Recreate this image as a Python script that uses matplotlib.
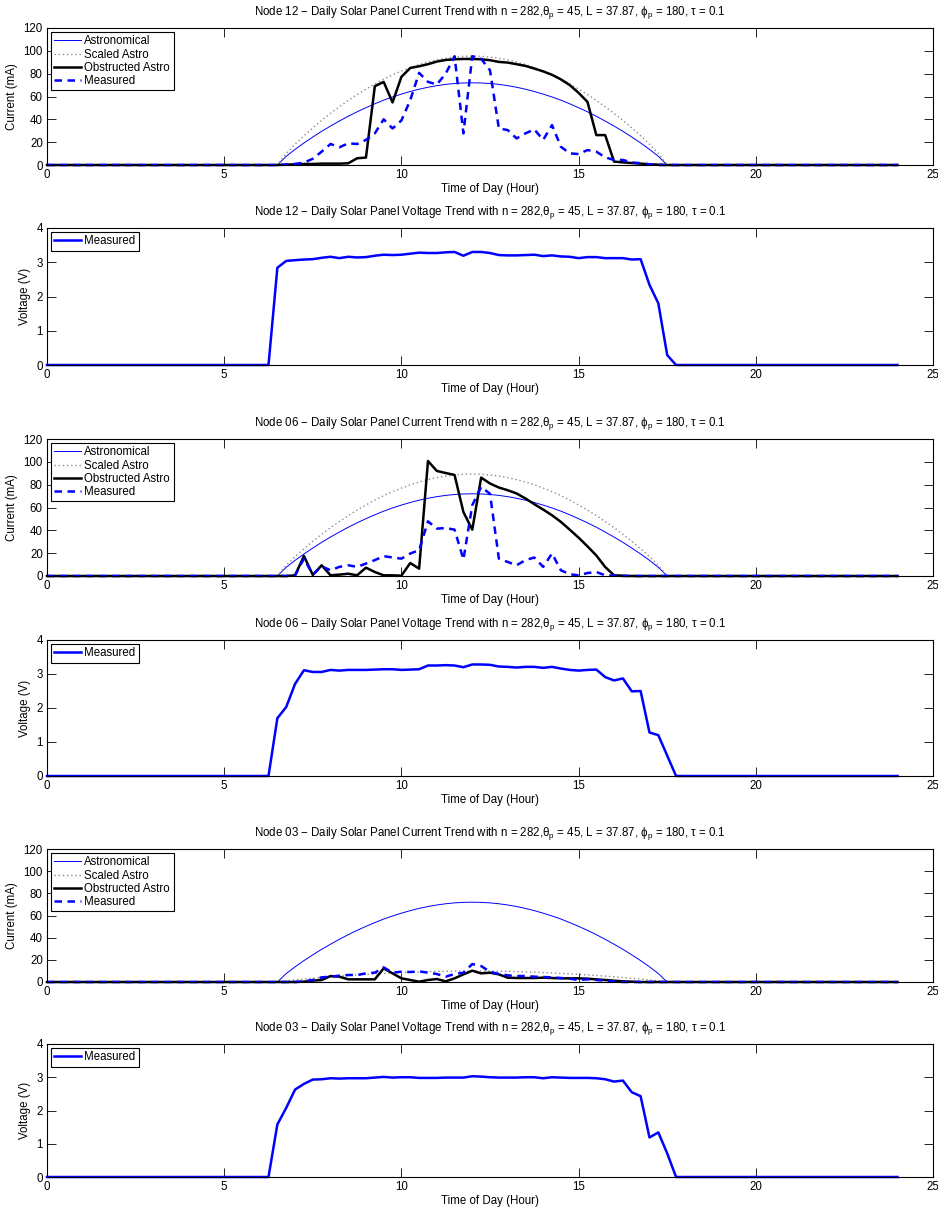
import numpy as np
import matplotlib.pyplot as plt

plt.rcParams['font.family'] = ['Liberation Sans', 'DejaVu Sans']
plt.rcParams['mathtext.default'] = 'regular'
plt.rcParams['font.size'] = 8

# 15 minute samples across the daylight window, padded with night zeros
day_hours = np.arange(6.25, 17.76, 0.25)

# astronomical model, identical for all nodes (same n, tilt, latitude, azimuth)
astro_ma = [0, 0, 7.6, 13.7, 19.3, 24.5, 29.5, 34.1, 38.5, 42.7, 46.6, 50.2, 53.6, 56.8,
            59.6, 62.1, 64.4, 66.4, 68.1, 69.5, 70.6, 71.4, 71.85, 72.0, 71.85, 71.4, 70.6,
            69.5, 68.1, 66.4, 64.4, 62.1, 59.6, 56.8, 53.6, 50.2, 46.6, 42.7, 38.5, 34.1,
            29.5, 24.5, 19.3, 13.7, 7.6, 0, 0]

# Node 12
scaled_12 = [0, 0, 10.1, 18.2, 25.6, 32.5, 39.1, 45.2, 51.0, 56.6, 61.7, 66.5, 71.0, 75.3,
             79.0, 82.3, 85.3, 88.0, 90.2, 92.1, 93.5, 94.6, 95.2, 95.4, 95.2, 94.6, 93.5,
             92.1, 90.2, 88.0, 85.3, 82.3, 79.0, 75.3, 71.0, 66.5, 61.7, 56.6, 51.0, 45.2,
             39.1, 32.5, 25.6, 18.2, 10.1, 0, 0]
obstructed_12 = [0, 0, 0.3, 0.6, 0.9, 0.9, 1.2, 1.2, 1.2, 1.5, 5.9, 6.5, 69, 72.8, 54.8,
                 77.2, 85, 86.5, 88.3, 90.6, 92, 92.6, 92.9, 92.9, 92.6, 91.8, 90.3, 89.7,
                 88.3, 86.8, 84.5, 82, 79, 75, 70, 63.2, 55.3, 26.2, 26.2, 3, 2.3, 1.7, 1.2,
                 0.6, 0.3, 0, 0]
measured_12 = [0, 0, 0.4, 1, 2, 5.5, 11.7, 18.4, 15.5, 19, 18.4, 22, 27.7, 40, 32, 39, 56.8,
               80.7, 72.8, 70.5, 80, 95.3, 27.7, 95.3, 93, 83, 32, 30.6, 23.3, 27.7, 31.2,
               22, 35, 16, 10.2, 9.6, 13.1, 11.7, 6.7, 4.4, 4.4, 2.3, 1.5, 0.6, 0, 0, 0]
voltage_12 = [0, 2.84, 3.04, 3.06, 3.08, 3.09, 3.13, 3.16, 3.12, 3.16, 3.14, 3.15, 3.19,
              3.22, 3.21, 3.22, 3.25, 3.28, 3.27, 3.27, 3.29, 3.30, 3.19, 3.30, 3.30, 3.27,
              3.21, 3.20, 3.20, 3.21, 3.22, 3.18, 3.20, 3.17, 3.16, 3.12, 3.15, 3.15, 3.12,
              3.12, 3.12, 3.08, 3.09, 2.34, 1.80, 0.29, 0]

# Node 06
scaled_06 = [0, 0, 9.4, 17.0, 23.9, 30.4, 36.6, 42.3, 47.7, 52.9, 57.8, 62.2, 66.5, 70.4,
             73.9, 77.0, 79.9, 82.3, 84.4, 86.2, 87.5, 88.5, 89.1, 89.3, 89.1, 88.5, 87.5,
             86.2, 84.4, 82.3, 79.9, 77.0, 73.9, 70.4, 66.5, 62.2, 57.8, 52.9, 47.7, 42.3,
             36.6, 30.4, 23.9, 17.0, 9.4, 0, 0]
obstructed_06 = [0, 0, 0, 0.6, 17.5, 0.9, 9.4, 0.6, 1.2, 2, 0.6, 7.3, 3.5, 0.6, 0.6, 0.3,
                 11.4, 6.4, 100.7, 92, 90.2, 88.5, 56, 40.6, 86.2, 81, 77.5, 75.1, 72.3,
                 67.9, 62.9, 58.2, 53.2, 47.4, 40.6, 33.6, 26, 18, 7.9, 0.6, 0.3, 0, 0, 0, 0,
                 0, 0]
measured_06 = [0, 0, 0, 0.6, 15.2, 1.2, 8.5, 5, 8, 9.4, 8, 10.9, 13.9, 17.4, 16.2, 15.2,
               19.7, 22.6, 47.9, 41.5, 42, 40.6, 14.5, 62, 78, 72, 15.2, 12.3, 9.4, 13.9,
               16.2, 8, 19.7, 5, 1.5, 0.6, 2.6, 3.5, 0.6, 0.3, 0, 0, 0, 0, 0, 0, 0]
voltage_06 = [0, 1.70, 2.03, 2.71, 3.11, 3.06, 3.06, 3.12, 3.10, 3.12, 3.12, 3.12, 3.13,
              3.14, 3.14, 3.12, 3.13, 3.14, 3.25, 3.25, 3.26, 3.25, 3.20, 3.28, 3.28, 3.27,
              3.22, 3.21, 3.19, 3.21, 3.21, 3.18, 3.21, 3.16, 3.12, 3.10, 3.12, 3.13, 2.91,
              2.81, 2.87, 2.49, 2.50, 1.28, 1.20, 0.60, 0]

# Node 03
scaled_03 = [0, 0, 1.0, 1.9, 2.7, 3.4, 4.1, 4.7, 5.3, 5.9, 6.4, 6.9, 7.4, 7.8, 8.2, 8.5,
             8.9, 9.1, 9.4, 9.6, 9.7, 9.8, 9.9, 9.9, 9.9, 9.8, 9.7, 9.6, 9.4, 9.1, 8.9, 8.5,
             8.2, 7.8, 7.4, 6.9, 6.4, 5.9, 5.3, 4.7, 4.1, 3.4, 2.7, 1.9, 1.0, 0, 0]
obstructed_03 = [0, 0, 0, 0, 0.3, 1.2, 1.8, 5.4, 4.8, 2.4, 2.4, 2.4, 2.4, 12.3, 7.8, 3.3,
                 1.8, 0.3, 1.8, 2.7, 0.6, 3.3, 6.9, 10.2, 7.8, 8.4, 6.9, 3.9, 3.6, 3.6, 3.6,
                 3.9, 3.6, 3.3, 3.3, 3.3, 3.0, 2.4, 1.8, 1.2, 0.6, 0.3, 0, 0, 0, 0, 0]
measured_03 = [0, 0, 0, 0, 0.6, 1.8, 4.2, 4.8, 5.7, 6.3, 6.3, 7.8, 8.4, 13.2, 8.4, 9.3, 9.0,
               9.6, 8.4, 7.2, 4.8, 7.2, 8.4, 16.2, 14.4, 9.3, 7.2, 6.0, 5.4, 5.4, 4.8, 4.5,
               4.2, 3.6, 3.0, 1.8, 2.4, 1.8, 1.2, 0.6, 0, 0, 0, 0, 0, 0, 0]
voltage_03 = [0, 1.58, 2.08, 2.63, 2.80, 2.93, 2.94, 2.97, 2.96, 2.97, 2.97, 2.97, 2.99,
              3.01, 2.99, 3.00, 3.00, 2.98, 2.98, 2.98, 2.99, 2.99, 2.99, 3.03, 3.02, 3.00,
              2.99, 2.99, 2.99, 3.00, 3.00, 2.97, 3.00, 2.99, 2.98, 2.98, 2.98, 2.97, 2.94,
              2.87, 2.90, 2.55, 2.43, 1.19, 1.34, 0.71, 0]

nodes = ['12', '06', '03']
params = r'n = 282,$\theta_p$ = 45, L = 37.87, $\phi_p$ = 180, $\tau$ = 0.1'

# axes boxes in figure pixels: (top, bottom)
px_w, px_h = 938, 1207
boxes = [(28, 165), (228, 365), (439, 576), (640, 776), (849, 982), (1044, 1177)]


def full_day(values):
    t = np.r_[0, day_hours, 24]
    return t, np.r_[0, values, 0]


def style_axes(ax, ylim, yticks, ylabel):
    ax.set_xlim(0, 25)
    ax.set_ylim(*ylim)
    ax.set_xticks(np.arange(0, 26, 5))
    ax.set_yticks(yticks)
    ax.tick_params(direction='in', length=6.3, width=0.6, top=True, right=True,
                   labelsize=8.3, pad=3)
    for s in ax.spines.values():
        s.set_linewidth(0.8)
    ax.set_xlabel('Time of Day (Hour)', fontsize=8.3, labelpad=1)
    ax.set_ylabel(ylabel, fontsize=8.3, labelpad=4)


def add_legend(ax):
    leg = ax.legend(loc='upper left', fontsize=8.3, fancybox=False, framealpha=1,
                    edgecolor='black', handlelength=2.3, handletextpad=0.3,
                    labelspacing=0.1, borderpad=0.3, borderaxespad=0.35)
    leg.get_frame().set_linewidth(0.8)


fig = plt.figure(figsize=(px_w / 100, px_h / 100), dpi=100)
axes = []
for top, bottom in boxes:
    axes.append(fig.add_axes([47 / px_w, 1 - bottom / px_h, 886 / px_w, (bottom - top) / px_h]))

currents = [
    (scaled_12, obstructed_12, measured_12),
    (scaled_06, obstructed_06, measured_06),
    (scaled_03, obstructed_03, measured_03),
]
voltages = [voltage_12, voltage_06, voltage_03]

for i, node in enumerate(nodes):
    ax_i = axes[2 * i]
    ax_v = axes[2 * i + 1]
    scaled, obstructed, measured = currents[i]

    ax_i.plot(*full_day(astro_ma), color='blue', lw=0.7, label='Astronomical', clip_on=False)
    ax_i.plot(*full_day(scaled), color='#8c8c8c', lw=1.0, ls=(0, (1, 2)),
              label='Scaled Astro', clip_on=False)
    ax_i.plot(*full_day(obstructed), color='black', lw=1.8, label='Obstructed Astro',
              clip_on=False)
    ax_i.plot(*full_day(measured), color='blue', lw=1.8, ls=(0, (3, 2.2)),
              label='Measured', clip_on=False)
    style_axes(ax_i, (0, 120), np.arange(0, 121, 20), 'Current (mA)')
    ax_i.set_title(f'Node {node} \u2212 Daily Solar Panel Current Trend with {params}',
                   fontsize=8.3, pad=9.5)
    add_legend(ax_i)

    ax_v.plot(*full_day(voltages[i]), color='blue', lw=1.8, label='Measured', clip_on=False)
    style_axes(ax_v, (0, 4), np.arange(0, 5, 1), 'Voltage (V)')
    ax_v.set_title(f'Node {node} \u2212 Daily Solar Panel Voltage Trend with {params}',
                   fontsize=8.3, pad=9.5)
    add_legend(ax_v)

fig.savefig('out.png', dpi=100)
